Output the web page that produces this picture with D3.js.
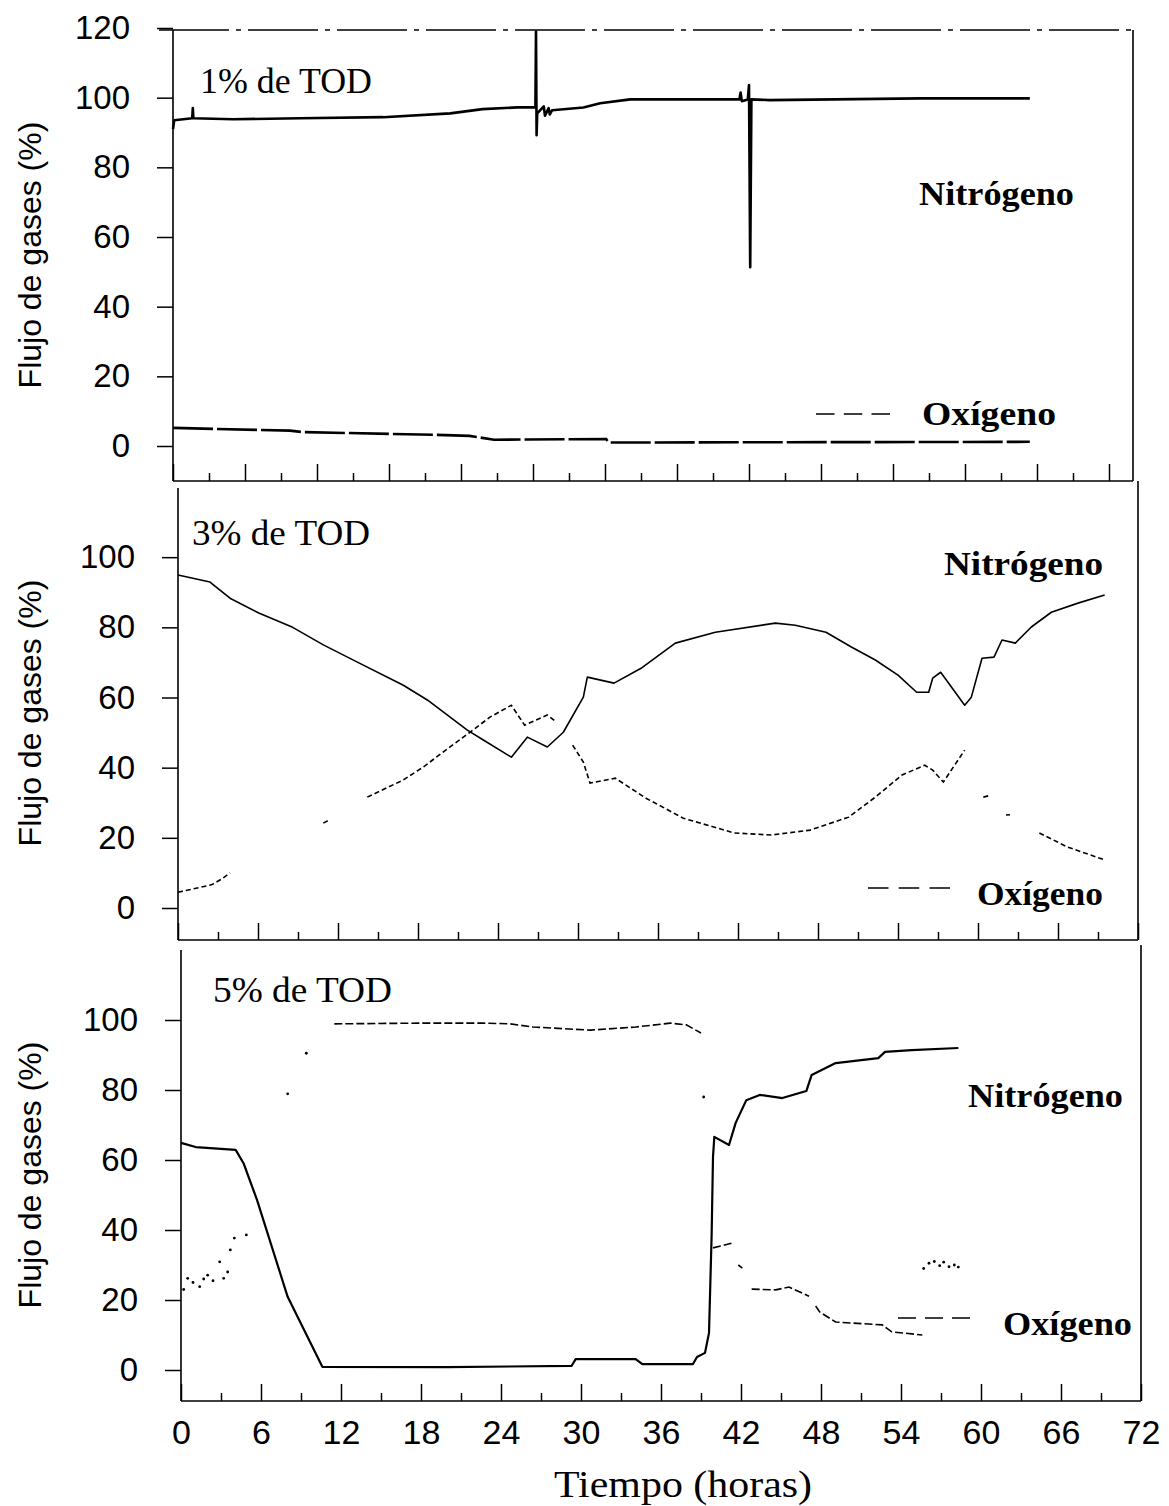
<!DOCTYPE html>
<html>
<head>
<meta charset="utf-8">
<script src="https://cdn.jsdelivr.net/npm/d3@7/dist/d3.min.js"></script>
<style>
  body { margin: 0; background: #fff; }
  svg { display: block; }
</style>
</head>
<body>
<svg id="chart" width="1169" height="1506"></svg>
<script>
// ---------- data: [hours, % of gas flow]; null marks a break in the trace ----------

// shared time-axis labels (hours)
const hourLabels = [0, 6, 12, 18, 24, 30, 36, 42, 48, 54, 60, 66, 72];
const yTicksTop = [0, 20, 40, 60, 80, 100, 120];
const yTicksLower = [0, 20, 40, 60, 80, 100];

// 1% TOD (own time scale 0-80 h)
const n2Tod1 = [[0, 91], [0.1, 93.5], [1.6, 94.1], [1.65, 97], [1.7, 94.1], [5, 93.8],
  [10.6, 94.1], [17.5, 94.4], [23.1, 95.5], [25.8, 96.7], [28.7, 97.2], [30.2, 97.2],
  [30.25, 119], [30.3, 89.2], [30.35, 95.5], [30.9, 97.5], [31.0, 94.8], [31.3, 97],
  [31.4, 95.2], [31.6, 96.4], [34.2, 97.2], [35.6, 98.4], [38.1, 99.5], [47.2, 99.5],
  [47.3, 101.5], [47.4, 99], [47.9, 99.5], [48.0, 103.6], [48.1, 51.3], [48.2, 99.5],
  [49.7, 99.3], [62.3, 99.8], [71.4, 99.8]];
const o2Tod1 = [[0, 5.2], [9.75, 4.4], [10.8, 4.0], [22, 3.2], [24.7, 2.9], [26.75, 1.8],
  [36.1, 2.0], [36.3, 1.0], [71.4, 1.2]];

// 3% TOD
const n2Tod3 = [[0, 94.9], [2.4, 92.9], [3.9, 88.3], [6.1, 84], [8.6, 80], [10.9, 75],
  [13.6, 69.8], [16.9, 63.5], [18.7, 59.3], [21.7, 50.7], [22.9, 47.9], [25, 43],
  [26.2, 48.7], [27.7, 45.9], [28.9, 50.1], [30.4, 60.1], [30.7, 65.8], [32.7, 64.1],
  [34.8, 68.5], [37.3, 75.5], [40.3, 78.6], [44.8, 81.2], [46.3, 80.6], [48.6, 78.6],
  [50.5, 74.4], [52.3, 70.7], [54, 66.4], [55.4, 61.5], [56.3, 61.5], [56.6, 65.5],
  [57.2, 67.2], [59, 57.8], [59.5, 60.1], [60.3, 71.2], [61.2, 71.5], [61.8, 76.4],
  [62.8, 75.5], [64, 80.1], [65.5, 84.3], [67.5, 86.9], [69.5, 89.2]];
const o2Tod3 = [[0, 4.5], [2.5, 6.6], [3.3, 8.3], [3.9, 10], null,
  [10.9, 24.2], [11.4, 25.2], null,
  [14.2, 31.6], [16.9, 36.5], [18.4, 40.2], [20.4, 45.9], [21.9, 50.1], [23.4, 54.4],
  [25, 57.8], [26, 52.1], [27.7, 55], [28.4, 53], null,
  [29.6, 46.4], [30.4, 41.6], [30.9, 35.6], [32.8, 37], [35.1, 31.3], [37.9, 25.6],
  [41.7, 21.4], [44.5, 20.8], [47.4, 22.2], [50.3, 25.9], [52.3, 31.6], [54.3, 37.9],
  [56, 40.7], [56.6, 39.3], [57.4, 35.9], [59, 45], null,
  [60.4, 31.6], [60.8, 32], null, [62.1, 26.5], [62.4, 26.6], null,
  [64.6, 21.4], [66.7, 17.4], [69.5, 13.7]];

// 5% TOD
const n2Tod5 = [[0, 64.9], [1.1, 63.7], [4.1, 62.9], [4.7, 59], [5.7, 48.6], [8, 20.9],
  [10.6, 0.9], [20, 0.8], [29.3, 1.2], [29.6, 3.1], [34.1, 3.1], [34.6, 1.7], [38.4, 1.7],
  [38.7, 3.7], [39.3, 4.9], [39.6, 10.6], [39.8, 39], [39.9, 60.9], [40, 66.6],
  [41.1, 64.3], [41.6, 70.6], [42.4, 77.1], [43.4, 78.6], [45.1, 77.7], [46.9, 79.7],
  [47.3, 84.3], [49.1, 87.7], [52.3, 89.1], [52.8, 90.9], [54.8, 91.4], [58.3, 92]];
const o2Tod5 = [[11.5, 98.9], [17.8, 99.1], [22.7, 99.1], [24.7, 98.9], [26.4, 98],
  [30.7, 97.1], [34.1, 98], [36.7, 99.1], [37.9, 98.6], [39, 96.3], null,
  [39.9, 34.9], [41.4, 36.3], null, [41.8, 30], [42.1, 29.1], null,
  [42.8, 23.1], [44.6, 22.9], [45.6, 23.7], [47.1, 21.1], null,
  [47.6, 18.3], [47.9, 16.6], [49.1, 13.7], [52.6, 12.9], [53.3, 10.9], [55.6, 10]];
// isolated oxygen readings (scattered points)
const o2Tod5Scatter = [[0.2, 23], [0.5, 26.2], [0.9, 25], [1.4, 23.8], [1.7, 26], [2, 27.1],
  [2.4, 25.5], [2.9, 30.9], [3.2, 26.2], [3.5, 28], [3.7, 34.3], [4, 37.7], [4.9, 38.6],
  [8, 78.9], [9.4, 90.5], [39.2, 78], [55.7, 29], [56.1, 30.5], [56.5, 31], [56.9, 29.8],
  [57.2, 30.8], [57.6, 29.5], [58, 30], [58.3, 29.4]];

// ---------- layout ----------
const panels = [
  { title: "1% de TOD", n2: n2Tod1, o2: o2Tod1, scatter: [], xMax: 80,
    left: 173, right: 1133, top: 30, bottom: 481, yZero: 446, yMaxPx: 28, yTicks: yTicksTop,
    frameTop: 30, rightTop: 30,
    titlePos: [200, 93, 172], n2Label: [919, 205, 155], o2Label: [922, 425, 134],
    legend: [816, 890, 414], yTitle: 255,
    n2Width: 2.6, o2Width: 2.6, o2Dash: "40,4" },
  { title: "3% de TOD", n2: n2Tod3, o2: o2Tod3, scatter: [], xMax: 72,
    left: 178, right: 1138, top: 488, bottom: 940, yZero: 908, yMaxPx: 487, yTicks: yTicksLower,
    frameTop: null, rightTop: 481,
    titlePos: [192, 545, 178], n2Label: [944, 575, 159], o2Label: [977, 905, 126],
    legend: [868, 950, 888], yTitle: 713,
    n2Width: 1.6, o2Width: 1.6, o2Dash: "5,3" },
  { title: "5% de TOD", n2: n2Tod5, o2: o2Tod5, scatter: o2Tod5Scatter, xMax: 72,
    left: 181, right: 1141, top: 950, bottom: 1401, yZero: 1370, yMaxPx: 950, yTicks: yTicksLower,
    frameTop: null, rightTop: 945,
    titlePos: [213, 1002, 179], n2Label: [968, 1107, 155], o2Label: [1003, 1335, 129],
    legend: [898, 970, 1318], yTitle: 1175,
    n2Width: 2.2, o2Width: 1.6, o2Dash: "8,3" }
];

const sans = "'Liberation Sans', Arial, Helvetica, sans-serif";
const serif = "'Liberation Serif', 'Times New Roman', Times, serif";

const svg = d3.select("#chart");
svg.append("rect").attr("width", 1169).attr("height", 1506).attr("fill", "#fff");

panels.forEach((p, i) => {
  const x = d3.scaleLinear().domain([0, p.xMax]).range([p.left, p.right]);
  const y = d3.scaleLinear().domain([0, 120]).range([p.yZero, p.yMaxPx]);
  const g = svg.append("g");

  // frame
  const frame = g.append("g").attr("stroke", "#000").attr("stroke-width", 1.6).attr("fill", "none");
  frame.append("line").attr("x1", p.left).attr("x2", p.left).attr("y1", p.top).attr("y2", p.bottom);
  frame.append("line").attr("x1", p.right).attr("x2", p.right).attr("y1", p.rightTop).attr("y2", p.bottom);
  frame.append("line").attr("x1", p.left).attr("x2", p.right).attr("y1", p.bottom).attr("y2", p.bottom);
  if (p.frameTop !== null) {
    frame.append("line").attr("x1", p.left - 14).attr("x2", p.right)
      .attr("y1", p.frameTop).attr("y2", p.frameTop).attr("stroke-dasharray", "70,7,5,7");
  }

  // y axis: outward ticks and labels
  const yAxis = g.append("g").attr("transform", `translate(${p.left},0)`)
    .call(d3.axisLeft(y).tickValues(p.yTicks).tickSize(16).tickSizeOuter(0).tickPadding(27));
  yAxis.select(".domain").remove();
  yAxis.selectAll(".tick line").attr("stroke", "#000").attr("stroke-width", 1.5);
  yAxis.selectAll(".tick text").attr("font-family", sans).attr("font-size", 33).attr("fill", "#000");

  // time axis: inward major (6 h) and minor (3 h) ticks
  const majors = d3.range(0, p.xMax + 0.1, 6);
  const minors = d3.range(3, p.xMax, 6);
  const xMaj = g.append("g").attr("transform", `translate(0,${p.bottom})`)
    .call(d3.axisBottom(x).tickValues(i === 2 ? hourLabels : majors).tickSizeInner(-17)
      .tickSizeOuter(0).tickPadding(19).tickFormat(i === 2 ? d3.format("d") : () => ""));
  xMaj.select(".domain").remove();
  xMaj.selectAll(".tick line").attr("stroke", "#000").attr("stroke-width", 1.5);
  xMaj.selectAll(".tick text").attr("font-family", sans).attr("font-size", 34).attr("fill", "#000");
  const xMin = g.append("g").attr("transform", `translate(0,${p.bottom})`)
    .call(d3.axisBottom(x).tickValues(minors).tickSizeInner(-8).tickSizeOuter(0).tickFormat(() => ""));
  xMin.select(".domain").remove();
  xMin.selectAll(".tick line").attr("stroke", "#000").attr("stroke-width", 1.5);

  // traces
  const line = d3.line().defined(d => d !== null).x(d => x(d[0])).y(d => y(d[1]));
  g.append("path").datum(p.o2).attr("d", line).attr("fill", "none").attr("stroke", "#000")
    .attr("stroke-width", p.o2Width).attr("stroke-dasharray", p.o2Dash);
  g.append("path").datum(p.n2).attr("d", line).attr("fill", "none").attr("stroke", "#000")
    .attr("stroke-width", p.n2Width).attr("stroke-linejoin", "round");
  g.selectAll("circle.sc").data(p.scatter).join("circle").attr("class", "sc")
    .attr("cx", d => x(d[0])).attr("cy", d => y(d[1])).attr("r", 1.4).attr("fill", "#000");

  // y axis title
  g.append("text").attr("transform", `translate(41,${p.yTitle}) rotate(-90)`)
    .attr("text-anchor", "middle").attr("font-family", sans).attr("font-size", 32)
    .text("Flujo de gases (%)");

  // panel title and series labels
  g.append("text").attr("x", p.titlePos[0]).attr("y", p.titlePos[1])
    .attr("font-family", serif).attr("font-size", 35)
    .attr("textLength", p.titlePos[2]).attr("lengthAdjust", "spacingAndGlyphs").text(p.title);
  g.append("text").attr("x", p.n2Label[0]).attr("y", p.n2Label[1])
    .attr("font-family", serif).attr("font-weight", "bold").attr("font-size", 33)
    .attr("textLength", p.n2Label[2]).attr("lengthAdjust", "spacingAndGlyphs").text("Nitrógeno");
  g.append("text").attr("x", p.o2Label[0]).attr("y", p.o2Label[1])
    .attr("font-family", serif).attr("font-weight", "bold").attr("font-size", 33)
    .attr("textLength", p.o2Label[2]).attr("lengthAdjust", "spacingAndGlyphs").text("Oxígeno");
  const gap = (p.legend[1] - p.legend[0]) / 8;
  g.append("line").attr("x1", p.legend[0]).attr("x2", p.legend[1])
    .attr("y1", p.legend[2]).attr("y2", p.legend[2]).attr("stroke", "#000")
    .attr("stroke-width", 1.6).attr("stroke-dasharray", `${gap * 2},${gap}`);
});

// time axis title
svg.append("text").attr("x", 683).attr("y", 1497).attr("text-anchor", "middle")
  .attr("font-family", serif).attr("font-size", 38)
  .attr("textLength", 258).attr("lengthAdjust", "spacingAndGlyphs").text("Tiempo (horas)");
</script>
</body>
</html>
